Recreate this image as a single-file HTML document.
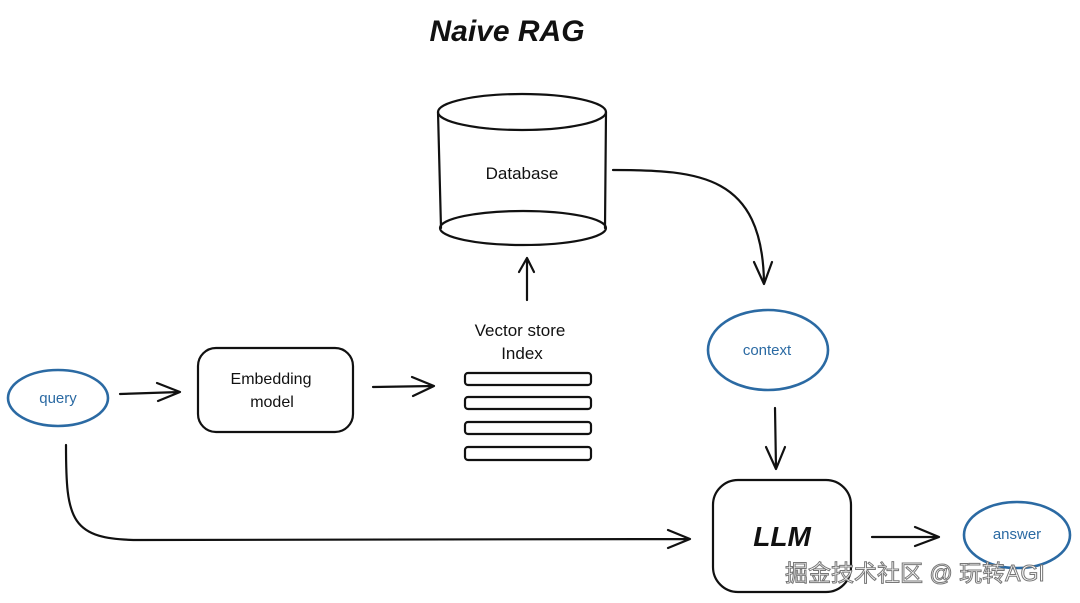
<!DOCTYPE html>
<html><head><meta charset="utf-8"><style>
html,body{margin:0;padding:0;background:#fff;}
svg{display:block;}
text{font-family:"Liberation Sans","Noto Sans CJK SC",sans-serif;}
</style></head><body>
<svg width="1080" height="603" viewBox="0 0 1080 603" xmlns="http://www.w3.org/2000/svg">
<g fill="none" stroke="#111" stroke-width="2.2" stroke-linecap="round" stroke-linejoin="round">
<!-- cylinder -->
<ellipse cx="522" cy="112" rx="84" ry="18"/>
<path d="M438 112 L441 228 M606 112 L605 228"/>
<ellipse cx="523" cy="228" rx="83" ry="17"/>
<!-- up arrow -->
<path d="M527 300 L527 258 M519 272 L527 258 L534 272"/>
<!-- bars -->
<rect x="465" y="373" width="126" height="12" rx="3"/>
<rect x="465" y="397" width="126" height="12" rx="3"/>
<rect x="465" y="422" width="126" height="12" rx="3"/>
<rect x="465" y="447" width="126" height="13" rx="3"/>
<!-- arrows -->
<path d="M120 394 L180 392 M157 383 L180 392 L158 401"/>
<rect x="198" y="348" width="155" height="84" rx="18"/>
<path d="M373 387 L434 386 M412 377 L434 386 L413 396"/>
<path d="M613 170 C700 170 762 175 764 282 M754 262 L764 284 L772 262"/>
<path d="M775 408 L776 468 M766 447 L776 469 L785 447"/>
<rect x="713" y="480" width="138" height="112" rx="25"/>
<path d="M872 537 L938 537 M915 527 L939 537 L915 546"/>
<path d="M66 445 C66 520 70 540 140 540 L688 539 M668 530 L690 539 L668 548"/>
</g>
<g fill="none" stroke="#2b6aa3" stroke-width="2.6">
<ellipse cx="58" cy="398" rx="50" ry="28"/>
<ellipse cx="768" cy="350" rx="60" ry="40"/>
<ellipse cx="1017" cy="535" rx="53" ry="33"/>
</g>
<g font-family="Liberation Sans" fill="#111" text-anchor="middle">
<text x="507" y="41" font-size="30" font-weight="bold" font-style="italic">Naive RAG</text>
<text x="522" y="179" font-size="17">Database</text>
<text x="520" y="336" font-size="17">Vector store</text>
<text x="522" y="359" font-size="17">Index</text>
<text x="271" y="384" font-size="16">Embedding</text>
<text x="272" y="407" font-size="16">model</text>
<text x="782" y="546" font-size="28" font-weight="bold" font-style="italic">LLM</text>
</g>
<g fill="#2b6aa3" text-anchor="middle" font-size="15">
<text x="58" y="403">query</text>
<text x="767" y="355">context</text>
<text x="1017" y="539">answer</text>
</g>
<text x="785" y="581" font-size="23" fill="#fff" stroke="#777" stroke-width="1" font-family="Liberation Sans,'Noto Sans CJK SC',sans-serif">掘金技术社区 @ 玩转AGI</text>
</svg>
</body></html>
